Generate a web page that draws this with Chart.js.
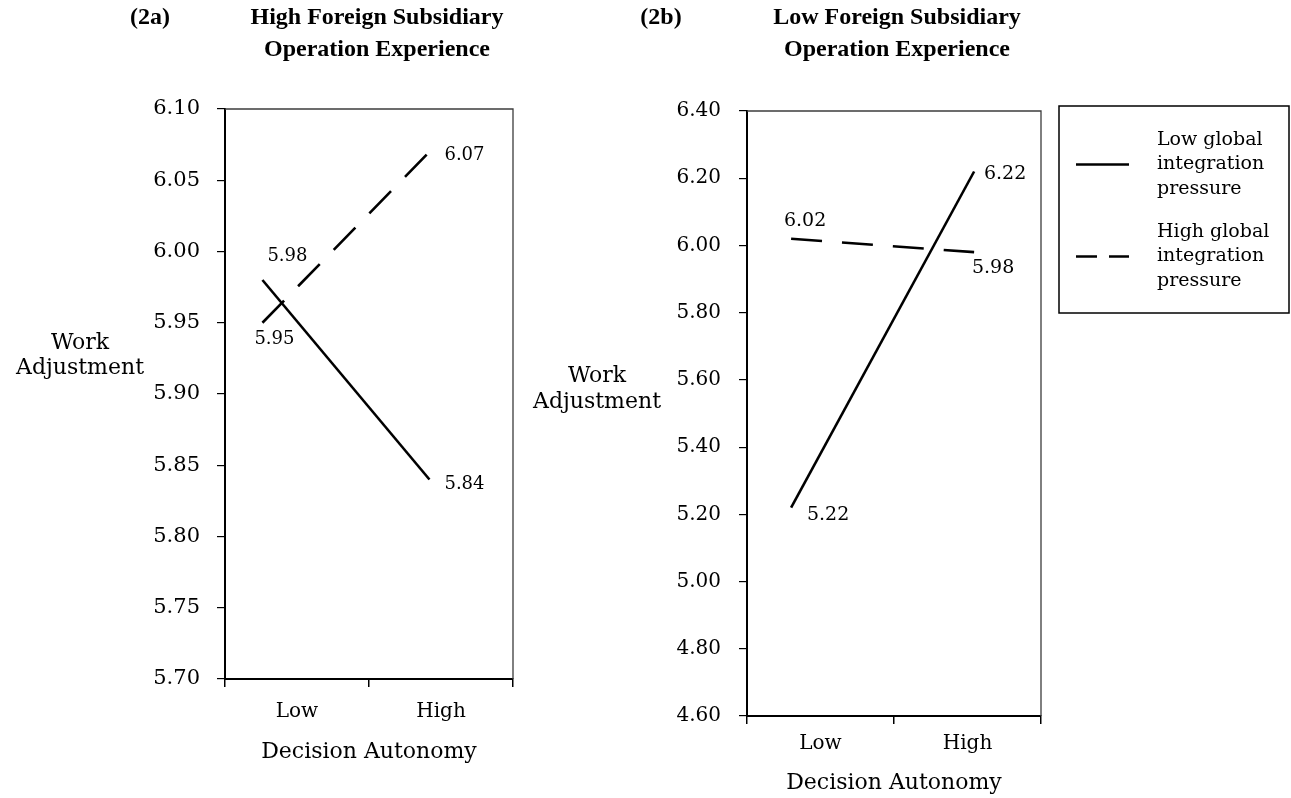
<!DOCTYPE html>
<html><head><meta charset="utf-8">
<script src="https://cdn.jsdelivr.net/npm/chart.js@4"></script>
<style>
html,body{margin:0;padding:0;background:#fff;width:1291px;height:798px;overflow:hidden}
#wrapA{position:absolute;left:0;top:0;width:530px;height:798px}
#wrapB{position:absolute;left:520px;top:0;width:771px;height:798px}
canvas{display:block}
</style></head><body>
<div id="wrapA"><canvas id="cA" width="530" height="798"></canvas></div>
<div id="wrapB"><canvas id="cB" width="771" height="798"></canvas></div>
<script>
// ---------- data ----------
const categories = ['Low', 'High'];
const seriesNames = ['Low global integration pressure', 'High global integration pressure'];
const legendLines = [['Low global', 'integration', 'pressure'], ['High global', 'integration', 'pressure']];
const yAxisTitle = ['Work', 'Adjustment'];
const xAxisTitle = 'Decision Autonomy';

// Panel 2a: High Foreign Subsidiary Operation Experience
const titleA = ['High Foreign Subsidiary', 'Operation Experience'];
const tagA = '(2a)';
const lowPressureA = [5.98, 5.84];
const highPressureA = [5.95, 6.07];
const xPosA = [0.26, 1.42];     // where the Low / High points sit along the autonomy axis (category boundaries at 0,1,2)
const yTicksA = [5.70, 5.75, 5.80, 5.85, 5.90, 5.95, 6.00, 6.05, 6.10];

// Panel 2b: Low Foreign Subsidiary Operation Experience
const titleB = ['Low Foreign Subsidiary', 'Operation Experience'];
const tagB = '(2b)';
const lowPressureB = [5.22, 6.22];
const highPressureB = [6.02, 5.98];
const xPosB = [0.30, 1.545];
const yTicksB = [4.60, 4.80, 5.00, 5.20, 5.40, 5.60, 5.80, 6.00, 6.20, 6.40];

// ---------- helpers ----------
Chart.defaults.font.family = '"DejaVu Serif", serif';
Chart.defaults.color = '#000';

const xTickValues = [];
categories.forEach((c, i) => { xTickValues.push(i, i + 0.5); });
xTickValues.push(categories.length);

function xLabel(v) {
  const i = v - 0.5;
  return Number.isInteger(i) && categories[i] ? categories[i] : '';
}

const decoPlugin = {
  id: 'deco',
  afterDraw(chart, args, o) {
    const ctx = chart.ctx, ca = chart.chartArea;
    ctx.save();
    // top & right frame of plot
    ctx.strokeStyle = '#3c3c3c'; ctx.lineWidth = 1.3;
    ctx.beginPath();
    ctx.moveTo(ca.left, ca.top); ctx.lineTo(ca.right, ca.top); ctx.lineTo(ca.right, ca.bottom);
    ctx.stroke();
    ctx.fillStyle = '#000';
    ctx.textBaseline = 'middle';
    ctx.textAlign = 'center';
    // titles
    ctx.font = 'bold 24px "Liberation Serif", serif';
    ctx.fillText(o.tag, o.tagX, o.titleY[0]);
    o.title.forEach((t, i) => ctx.fillText(t, o.titleX, o.titleY[i]));
    // y axis title (horizontal)
    ctx.font = '22px "DejaVu Serif", serif';
    yAxisTitle.forEach((t, i) => ctx.fillText(t, o.yTitleX, o.yTitleY[i]));
    // value labels
    ctx.font = o.valueFont;
    chart.data.datasets.forEach((ds, di) => {
      const meta = chart.getDatasetMeta(di);
      meta.data.forEach((pt, pi) => {
        const off = o.labelOffsets[di][pi];
        ctx.fillText(ds.data[pi].y.toFixed(2), pt.x + off[0], pt.y + off[1]);
      });
    });
    // legend
    if (o.legend) {
      const L = o.legend;
      ctx.strokeStyle = '#000'; ctx.lineWidth = 1.5; ctx.setLineDash([]);
      ctx.strokeRect(L.x, L.y, L.w, L.h);
      chart.data.datasets.forEach((ds, di) => {
        const cy = L.rowY[di];
        ctx.save();
        ctx.strokeStyle = ds.borderColor; ctx.lineWidth = ds.borderWidth;
        ctx.setLineDash(di === 0 ? [] : L.dash);
        ctx.beginPath(); ctx.moveTo(L.lineX0, cy); ctx.lineTo(L.lineX1, cy); ctx.stroke();
        ctx.restore();
        ctx.font = '19px "DejaVu Serif", serif';
        ctx.textAlign = 'left';
        legendLines[di].forEach((t, li) => ctx.fillText(t, L.textX, cy + (li - 1) * L.lineGap));
      });
    }
    ctx.restore();
  }
};

function makeChart(id, cfg) {
  return new Chart(document.getElementById(id), {
    type: 'line',
    data: {
      datasets: [
        { label: seriesNames[0], data: cfg.low.map((y, i) => ({ x: cfg.xPos[i], y })),
          borderColor: '#000', borderWidth: 2.6, pointRadius: 0, fill: false, tension: 0 },
        { label: seriesNames[1], data: cfg.high.map((y, i) => ({ x: cfg.xPos[i], y })),
          borderColor: '#000', borderWidth: 2.6, borderDash: [31, 20], pointRadius: 0, fill: false, tension: 0 }
      ]
    },
    options: {
      responsive: false, animation: false, devicePixelRatio: 1,
      layout: { padding: { top: cfg.padTop, right: cfg.padRight, bottom: 0, left: 0 } },
      plugins: { legend: { display: false }, tooltip: { enabled: false }, deco: cfg.deco },
      scales: {
        x: {
          type: 'linear', min: 0, max: categories.length,
          afterBuildTicks: s => { s.ticks = xTickValues.map(v => ({ value: v })); },
          ticks: { autoSkip: false, maxRotation: 0, padding: cfg.xTickPad, font: { size: 20 }, color: '#000',
                   callback: v => xLabel(v) },
          grid: { drawOnChartArea: false, tickLength: 8, lineWidth: 1.5,
                  color: c => (c.tick && Number.isInteger(c.tick.value)) ? '#000' : 'rgba(0,0,0,0)' },
          border: { display: true, color: '#000', width: 2 },
          title: { display: true, text: xAxisTitle, font: { size: 22 }, color: '#000', padding: { top: 0, bottom: cfg.xTitlePad } },
          afterFit: s => { s.height = cfg.xHeight; }
        },
        y: {
          min: cfg.yTicks[0], max: cfg.yTicks[cfg.yTicks.length - 1],
          afterBuildTicks: s => { s.ticks = cfg.yTicks.map(v => ({ value: v })); },
          ticks: { padding: cfg.yTickPad, font: { size: cfg.yTickSize }, color: '#000', callback: v => Number(v).toFixed(2) },
          grid: { drawOnChartArea: false, tickLength: 8, color: '#000', lineWidth: 1.2 },
          border: { display: true, color: '#000', width: 2 },
          afterFit: s => { s.width = cfg.yWidth; }
        }
      }
    },
    plugins: [decoPlugin]
  });
}

makeChart('cA', {
  low: lowPressureA, high: highPressureA, xPos: xPosA, yTicks: yTicksA,
  padTop: 109, padRight: 17, yWidth: 225, xHeight: 119, xTickPad: 13, xTitlePad: 33,
  yTickPad: 17, yTickSize: 21,
  deco: {
    tag: tagA, tagX: 150, title: titleA, titleX: 377, titleY: [18, 50],
    yTitleX: 80, yTitleY: [343, 368],
    valueFont: '18px "DejaVu Serif", serif',
    labelOffsets: [[[25, -24], [35, 5]], [[12, 17], [35, 4]]]
  }
});

makeChart('cB', {
  low: lowPressureB, high: highPressureB, xPos: xPosB, yTicks: yTicksB,
  padTop: 111, padRight: 250, yWidth: 227, xHeight: 82, xTickPad: 8, xTitlePad: 2,
  yTickPad: 18, yTickSize: 20,
  deco: {
    tag: tagB, tagX: 141, title: titleB, titleX: 377, titleY: [18, 50],
    yTitleX: 77, yTitleY: [376, 402],
    valueFont: '19px "DejaVu Serif", serif',
    labelOffsets: [[[37, 7], [31, 3]], [[14, -18], [19, 16]]],
    legend: { x: 539, y: 106, w: 230, h: 207, rowY: [164.5, 256.5], lineX0: 556, lineX1: 609,
              textX: 637, lineGap: 24.5, dash: [21, 12] }
  }
});
</script>
</body></html>
